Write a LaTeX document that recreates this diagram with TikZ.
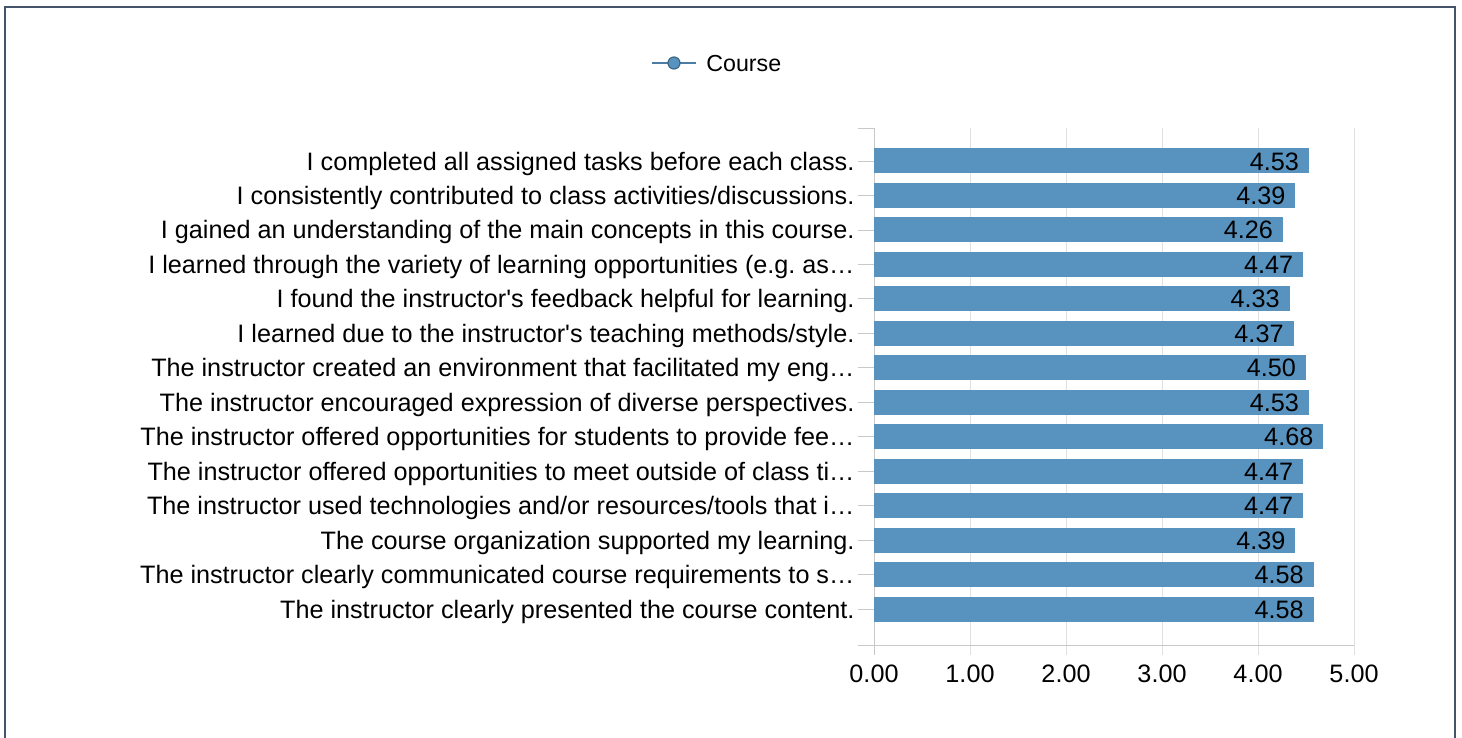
\documentclass[tikz,border=0pt]{standalone}
\usepackage{fontspec}
\setmainfont{Liberation Sans}
\frenchspacing
\definecolor{barblue}{RGB}{88,147,192}
\definecolor{frame}{RGB}{68,84,106}
\definecolor{gridgray}{RGB}{224,224,224}
\definecolor{axisgray}{RGB}{200,200,200}
\tikzset{
  lbl/.style={anchor=east, inner sep=0pt, text height=9pt, text depth=0pt, font=\fontsize{12.6}{14}\selectfont},
  val/.style={anchor=east, inner sep=0pt, text height=9pt, text depth=0pt, font=\fontsize{12.6}{14}\selectfont},
  tick/.style={inner sep=0pt, text height=9pt, text depth=0pt, font=\fontsize{12.6}{14}\selectfont},
  bar/.style={fill=barblue}
}

\begin{document}
\begin{tikzpicture}[x={(0.5pt,0)}, y={(0,-0.5pt)}]
            \clip (0,0) rectangle (1462,738);
            \draw[frame, line width=1.3pt] (5,7) rectangle (1455,800);
            % legend
            \draw[barblue!85!black, line width=0.8pt] (652,63) -- (696,63);
            \draw[fill=barblue, draw=barblue!70!black, line width=0.6pt] (674,63) circle (3pt);
            \node[anchor=west, inner sep=0pt, text height=8.3pt, text depth=0pt, font=\fontsize{11.6}{14}\selectfont] (course) at (706,63) {Course};
            \begin{scope}[shift={(874,0)}, x={(48pt,0)}]
            % grid and axes
            \draw[gridgray] (1,128) -- (1,655);
            \draw[gridgray] (2,128) -- (2,655);
            \draw[gridgray] (3,128) -- (3,655);
            \draw[gridgray] (4,128) -- (4,655);
            \draw[gridgray] (5,128) -- (5,655);
            \draw[axisgray] (0,128) -- (0,655);
            \draw[axisgray] (-0.17,645) -- (5,645);
            \draw[axisgray] (-0.17,128) -- (0,128);
            \node[tick] (t0) at (0,673) {0.00};
            \node[tick] (t1) at (1,673) {1.00};
            \node[tick] (t2) at (2,673) {2.00};
            \node[tick] (t3) at (3,673) {3.00};
            \node[tick] (t4) at (4,673) {4.00};
            \node[tick] (t5) at (5,673) {5.00};
            % bars
            \fill[bar] (0,148.5) rectangle (4.53,173.5);
            \fill[bar] (0,183.0) rectangle (4.39,208.0);
            \fill[bar] (0,217.4) rectangle (4.26,242.4);
            \fill[bar] (0,251.9) rectangle (4.47,276.9);
            \fill[bar] (0,286.3) rectangle (4.33,311.3);
            \fill[bar] (0,320.8) rectangle (4.37,345.8);
            \fill[bar] (0,355.3) rectangle (4.50,380.3);
            \fill[bar] (0,389.7) rectangle (4.53,414.7);
            \fill[bar] (0,424.2) rectangle (4.68,449.2);
            \fill[bar] (0,458.6) rectangle (4.47,483.6);
            \fill[bar] (0,493.1) rectangle (4.47,518.1);
            \fill[bar] (0,527.6) rectangle (4.39,552.6);
            \fill[bar] (0,562.0) rectangle (4.58,587.0);
            \fill[bar] (0,596.5) rectangle (4.58,621.5);
            % category ticks
            \draw[axisgray] (-0.17,161.0) -- (0,161.0);
            \draw[axisgray] (-0.17,195.5) -- (0,195.5);
            \draw[axisgray] (-0.17,229.9) -- (0,229.9);
            \draw[axisgray] (-0.17,264.4) -- (0,264.4);
            \draw[axisgray] (-0.17,298.8) -- (0,298.8);
            \draw[axisgray] (-0.17,333.3) -- (0,333.3);
            \draw[axisgray] (-0.17,367.8) -- (0,367.8);
            \draw[axisgray] (-0.17,402.2) -- (0,402.2);
            \draw[axisgray] (-0.17,436.7) -- (0,436.7);
            \draw[axisgray] (-0.17,471.1) -- (0,471.1);
            \draw[axisgray] (-0.17,505.6) -- (0,505.6);
            \draw[axisgray] (-0.17,540.1) -- (0,540.1);
            \draw[axisgray] (-0.17,574.5) -- (0,574.5);
            \draw[axisgray] (-0.17,609.0) -- (0,609.0);
            % values
            \node[val] (v1) at (4.43,161.0) {4.53};
            \node[val] (v2) at (4.29,195.5) {4.39};
            \node[val] (v3) at (4.16,229.9) {4.26};
            \node[val] (v4) at (4.37,264.4) {4.47};
            \node[val] (v5) at (4.23,298.8) {4.33};
            \node[val] (v6) at (4.27,333.3) {4.37};
            \node[val] (v7) at (4.40,367.8) {4.50};
            \node[val] (v8) at (4.43,402.2) {4.53};
            \node[val] (v9) at (4.58,436.7) {4.68};
            \node[val] (v10) at (4.37,471.1) {4.47};
            \node[val] (v11) at (4.37,505.6) {4.47};
            \node[val] (v12) at (4.29,540.1) {4.39};
            \node[val] (v13) at (4.48,574.5) {4.58};
            \node[val] (v14) at (4.48,609.0) {4.58};
            % labels
            \node[lbl] (l1) at (-0.2,161.0) {I completed all assigned tasks before each class.};
            \node[lbl] (l2) at (-0.2,195.5) {I consistently contributed to class activities/discussions.};
            \node[lbl] (l3) at (-0.2,229.9) {I gained an understanding of the main concepts in this course.};
            \node[lbl] (l4) at (-0.2,264.4) {I learned through the variety of learning opportunities (e.g. as…};
            \node[lbl] (l5) at (-0.2,298.8) {I found the instructor\textquotesingle s feedback helpful for learning.};
            \node[lbl] (l6) at (-0.2,333.3) {I learned due to the instructor\textquotesingle s teaching methods/style.};
            \node[lbl] (l7) at (-0.2,367.8) {The instructor created an environment that facilitated my eng…};
            \node[lbl] (l8) at (-0.2,402.2) {The instructor encouraged expression of diverse perspectives.};
            \node[lbl] (l9) at (-0.2,436.7) {The instructor offered opportunities for students to provide fee…};
            \node[lbl] (l10) at (-0.2,471.1) {The instructor offered opportunities to meet outside of class ti…};
            \node[lbl] (l11) at (-0.2,505.6) {The instructor used technologies and/or resources/tools that i…};
            \node[lbl] (l12) at (-0.2,540.1) {The course organization supported my learning.};
            \node[lbl] (l13) at (-0.2,574.5) {The instructor clearly communicated course requirements to s…};
            \node[lbl] (l14) at (-0.2,609.0) {The instructor clearly presented the course content.};
            \end{scope}
        \end{tikzpicture}
\end{document}
